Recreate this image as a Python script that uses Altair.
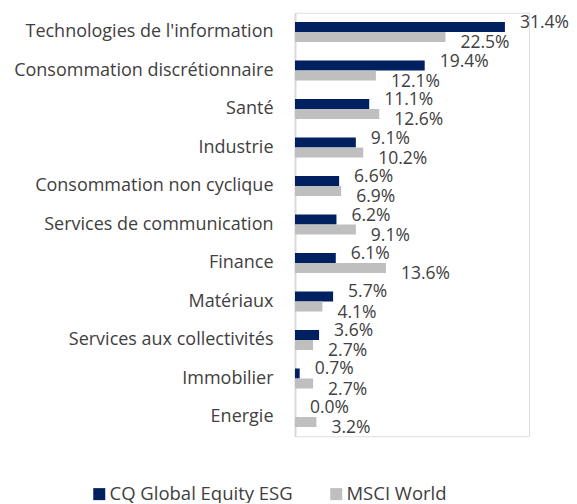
import altair as alt
import pandas as pd

categories = ["Technologies de l'information", "Consommation discrétionnaire", "Santé",
              "Industrie", "Consommation non cyclique", "Services de communication",
              "Finance", "Matériaux", "Services aux collectivités", "Immobilier", "Energie"]
cq_values = [31.4, 19.4, 11.1, 9.1, 6.6, 6.2, 6.1, 5.7, 3.6, 0.7, 0.0]
msci_values = [22.5, 12.1, 12.6, 10.2, 6.9, 9.1, 13.6, 4.1, 2.7, 2.7, 3.2]
series = ["CQ Global Equity ESG", "MSCI World"]
colors = ["#002060", "#BFBFBF"]

rows = []
for c, a, b in zip(categories, cq_values, msci_values):
    rows.append({"cat": c, "series": series[0], "value": a, "label": f"{a:.1f}%"})
    rows.append({"cat": c, "series": series[1], "value": b, "label": f"{b:.1f}%"})
df = pd.DataFrame(rows)

FONT = "Open Sans"
TXT = "#404040"

y_enc = alt.Y("cat:N", sort=categories, title=None,
              scale=alt.Scale(paddingInner=0.48, paddingOuter=0.24),
              axis=alt.Axis(ticks=False, domainColor="#D9D9D9", domainWidth=2,
                            labelFont=FONT, labelFontSize=18, labelColor=TXT,
                            labelPadding=22, labelLimit=400))
x_enc = alt.X("value:Q", scale=alt.Scale(domain=[0, 35]), axis=None)
yoff = alt.YOffset("series:N", sort=series)

bars = alt.Chart(df).mark_bar().encode(
    y=y_enc, x=x_enc, yOffset=yoff,
    color=alt.Color("series:N", sort=series,
                    scale=alt.Scale(domain=series, range=colors),
                    legend=alt.Legend(title=None, orient="none", legendX=-205, legendY=472,
                                      direction="horizontal", symbolType="square",
                                      symbolSize=144, symbolStrokeWidth=0,
                                      labelFont=FONT, labelFontSize=18.5, labelColor=TXT,
                                      labelLimit=400, columnPadding=34, labelOffset=1)),
)

text_cq = alt.Chart(df).transform_filter(alt.datum.series == series[0]).mark_text(
    align="left", baseline="middle", dx=15, dy=-4, font=FONT, fontSize=17.5, color=TXT
).encode(y=y_enc, x=x_enc, yOffset=yoff, text="label:N")

text_ms = alt.Chart(df).transform_filter(alt.datum.series == series[1]).mark_text(
    align="left", baseline="middle", dx=15, dy=6, font=FONT, fontSize=17.5, color=TXT
).encode(y=y_enc, x=x_enc, yOffset=yoff, text="label:N")

chart = alt.layer(bars, text_cq, text_ms).properties(
    width=234, height=423.5,
    autosize=alt.AutoSizeParams(type="none"),
    padding={"left": 287, "top": 4.76, "right": 40, "bottom": 67},
).configure_view(stroke=None).configure(background="white")

chart.save("out.html", embed_options={"renderer": "svg", "actions": False})
